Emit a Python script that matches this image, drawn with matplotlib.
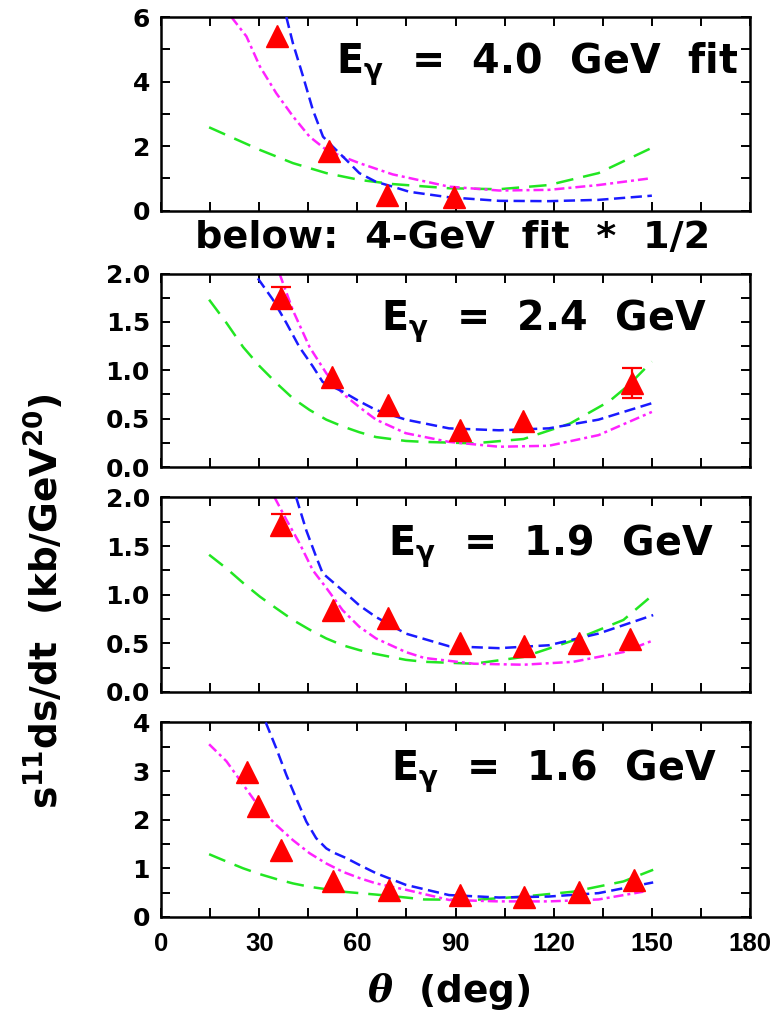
import numpy as np
import matplotlib.pyplot as plt
from matplotlib.ticker import MultipleLocator, FormatStrFormatter

plt.rcParams['font.family'] = ['DejaVu Sans']
plt.rcParams['font.weight'] = 'bold'
plt.rcParams['mathtext.fontset'] = 'custom'
plt.rcParams['mathtext.rm'] = 'DejaVu Sans:bold'
plt.rcParams['mathtext.it'] = 'DejaVu Serif:italic'
plt.rcParams['mathtext.bf'] = 'DejaVu Sans:bold'
plt.rcParams['mathtext.default'] = 'rm'

# ---- E = 4.0 GeV (fit panel) ----
data40_th = [35.5, 51.3, 69.1, 89.6]
data40 = [5.4, 1.83, 0.48, 0.43]
err40 = [0, 0, 0, 0]
green40_th = [14.7, 30.2, 40.3, 50.5, 60.6, 70.8, 88, 103.3, 118.5, 133.7, 149.7]
green40 = [2.58, 1.88, 1.47, 1.16, 0.95, 0.82, 0.69, 0.66, 0.79, 1.16, 1.93]
magenta40_th = [21.5, 26.1, 30.2, 35.2, 40.4, 45.4, 50.5, 55.5, 60.6, 70.8, 88, 103.3, 118.5, 133.7, 149.7]
magenta40 = [6.0, 5.40, 4.47, 3.64, 2.91, 2.29, 1.88, 1.67, 1.47, 1.12, 0.74, 0.62, 0.64, 0.79, 1.0]
blue40_th = [38.3, 40.3, 43.4, 46.4, 49.5, 52.5, 56.6, 60.6, 65.7, 70.8, 75.9, 88, 103.3, 118.5, 133.7, 150]
blue40 = [6.0, 5.19, 4.16, 3.12, 2.29, 1.98, 1.57, 1.16, 0.89, 0.74, 0.58, 0.41, 0.30, 0.29, 0.33, 0.46]

# ---- E = 2.4 GeV ----
data24_th = [36.8, 52.3, 69.5, 91.4, 110.6, 144.0]
data24 = [1.75, 0.93, 0.64, 0.38, 0.48, 0.87]
err24 = [0.11, 0, 0, 0, 0, 0.155]
green24_th = [14.7, 20, 25.1, 30.2, 35.2, 40.3, 45.4, 50.5, 55.5, 60.6, 65.7, 74.8, 80.4, 95.6, 110.8, 125, 137, 143, 150]
green24 = [1.73, 1.49, 1.24, 1.04, 0.87, 0.71, 0.59, 0.49, 0.42, 0.36, 0.31, 0.27, 0.26, 0.245, 0.29, 0.45, 0.68, 0.85, 1.09]
magenta24_th = [36.2, 40.3, 45.4, 50.5, 55.5, 60.6, 65.7, 74.8, 88, 103.3, 118.5, 133.7, 150]
magenta24 = [2.0, 1.62, 1.24, 0.97, 0.76, 0.62, 0.49, 0.35, 0.26, 0.21, 0.22, 0.33, 0.57]
blue24_th = [29.6, 34.2, 38.3, 42.3, 46.4, 49.4, 55.5, 60.6, 65.7, 74.8, 88, 103.3, 118.5, 133.7, 150]
blue24 = [1.95, 1.73, 1.49, 1.24, 1.04, 0.88, 0.78, 0.68, 0.59, 0.49, 0.40, 0.38, 0.40, 0.49, 0.66]

# ---- E = 1.9 GeV ----
data19_th = [36.8, 52.5, 69.5, 91.4, 110.9, 127.6, 143.2]
data19 = [1.72, 0.84, 0.76, 0.50, 0.47, 0.50, 0.54]
err19 = [0.105, 0, 0, 0, 0, 0, 0]
green19_th = [14.7, 20, 25.1, 30.2, 35.2, 40.3, 45.4, 50.5, 55.5, 60.6, 65.7, 74.8, 80.4, 95.6, 110.8, 126, 141.3, 150.4]
green19 = [1.41, 1.27, 1.12, 0.98, 0.86, 0.74, 0.64, 0.55, 0.48, 0.43, 0.39, 0.33, 0.31, 0.29, 0.36, 0.53, 0.74, 1.0]
magenta19_th = [34.7, 38.3, 42.3, 46.4, 50.5, 55.5, 60.6, 65.7, 74.8, 80.4, 95.6, 110.8, 126, 141.3, 150.4]
magenta19 = [2.0, 1.77, 1.53, 1.25, 1.07, 0.84, 0.67, 0.55, 0.41, 0.35, 0.29, 0.28, 0.31, 0.41, 0.53]
blue19_th = [41.3, 44.4, 47.4, 49.4, 52.5, 56.6, 60.6, 65.7, 74.8, 88, 103.3, 118.5, 133.7, 150.4]
blue19 = [2.0, 1.66, 1.39, 1.22, 1.13, 1.01, 0.89, 0.77, 0.60, 0.47, 0.45, 0.48, 0.60, 0.79]

# ---- E = 1.6 GeV ----
data16_th = [26.3, 29.7, 36.8, 52.5, 69.8, 91.4, 110.9, 127.6, 144.4]
data16 = [2.99, 2.29, 1.38, 0.73, 0.56, 0.45, 0.42, 0.52, 0.76]
err16 = [0, 0, 0, 0, 0, 0, 0, 0, 0]
green16_th = [14.7, 20, 25.1, 30.2, 35.2, 40.3, 45.4, 50.5, 55.5, 60.6, 65.7, 74.8, 80.4, 95.6, 110.8, 126, 141.3, 150.4]
green16 = [1.29, 1.14, 1.0, 0.88, 0.78, 0.69, 0.62, 0.57, 0.52, 0.49, 0.46, 0.40, 0.36, 0.35, 0.42, 0.52, 0.73, 0.97]
magenta16_th = [14.7, 20, 25.1, 30.2, 35.2, 40.3, 45.4, 50.5, 55.5, 60.6, 65.7, 74.8, 88, 103.3, 118.5, 133.7, 147.4]
magenta16 = [3.55, 3.20, 2.72, 2.24, 1.89, 1.58, 1.31, 1.10, 0.93, 0.80, 0.69, 0.56, 0.35, 0.32, 0.32, 0.36, 0.52]
blue16_th = [32, 35.2, 38.3, 41.3, 44.4, 47.4, 50.5, 52.5, 56.6, 60.6, 65.7, 74.8, 88, 103.3, 118.5, 133.7, 150.4]
blue16 = [4.0, 3.47, 2.92, 2.44, 1.96, 1.62, 1.41, 1.33, 1.21, 1.07, 0.90, 0.66, 0.45, 0.40, 0.42, 0.49, 0.71]

labels = [r'E$_{\gamma}$  =  4.0  GeV  fit', r'E$_{\gamma}$  =  2.4  GeV',
          r'E$_{\gamma}$  =  1.9  GeV', r'E$_{\gamma}$  =  1.6  GeV']
ymax = [6, 2, 2, 4]
ymajor = [2, 0.5, 0.5, 1]
yminor = [1, 0.25, 0.25, 0.5]
yfmt = ['%d', '%.1f', '%.1f', '%d']

panels = [
    (data40_th, data40, err40, green40_th, green40, magenta40_th, magenta40, blue40_th, blue40),
    (data24_th, data24, err24, green24_th, green24, magenta24_th, magenta24, blue24_th, blue24),
    (data19_th, data19, err19, green19_th, green19, magenta19_th, magenta19, blue19_th, blue19),
    (data16_th, data16, err16, green16_th, green16, magenta16_th, magenta16, blue16_th, blue16),
]

# axes boxes [left, bottom, width, height] in figure fractions
boxes = [
    [0.2083, 0.7924, 0.7620, 0.1908],
    [0.2083, 0.5394, 0.7620, 0.1908],
    [0.2083, 0.3176, 0.7620, 0.1919],
    [0.2083, 0.0957, 0.7620, 0.1919],
]
label_pos = [(0.297, 0.711), (0.374, 0.708), (0.386, 0.704), (0.391, 0.704)]

fig = plt.figure(figsize=(7.73, 10.14), dpi=100)

for i, (th, val, err, g_th, g, m_th, m, b_th, b) in enumerate(panels):
    ax = fig.add_axes(boxes[i])
    ax.plot(g_th, g, color='#22e622', lw=1.8, ls=(0, (7, 4)), zorder=2)
    ax.plot(m_th, m, color='#ff22ff', lw=1.8, ls=(0, (4, 1.6, 1.2, 1.6)), zorder=2)
    ax.plot(b_th, b, color='#1a1aff', lw=1.8, ls=(0, (4.5, 2.2)), zorder=3)

    th = np.array(th)
    val = np.array(val)
    err = np.array(err)
    has_err = err > 0
    if has_err.any():
        ax.errorbar(th[has_err], val[has_err], yerr=err[has_err], fmt='none',
                    ecolor='red', elinewidth=1.6, capsize=7.5, capthick=1.6, zorder=4)
    ax.plot(th, val, '^', color='red', mec='red', ms=16, zorder=5)

    ax.set_xlim(0, 180)
    ax.set_ylim(0, ymax[i])
    ax.xaxis.set_major_locator(MultipleLocator(30))
    ax.xaxis.set_minor_locator(MultipleLocator(15))
    ax.yaxis.set_major_locator(MultipleLocator(ymajor[i]))
    ax.yaxis.set_minor_locator(MultipleLocator(yminor[i]))
    ax.yaxis.set_major_formatter(FormatStrFormatter(yfmt[i]))
    ax.tick_params(which='both', direction='in', top=True, right=True,
                   length=6.5, width=1.4, labelsize=18)
    ax.tick_params(axis='y', pad=8)
    ax.tick_params(axis='x', pad=11)
    if i < 3:
        ax.tick_params(axis='x', labelbottom=False)
    else:
        for lab in ax.get_xticklabels():
            lab.set_fontfamily('Liberation Sans')
            lab.set_fontsize(18.5)
    for sp in ax.spines.values():
        sp.set_linewidth(1.8)

    ax.text(label_pos[i][0], label_pos[i][1], labels[i], transform=ax.transAxes,
            ha='left', va='baseline', fontsize=28.5, fontweight='bold')

fig.text(0.585, 0.7554, 'below:  4-GeV  fit  *  1/2', ha='center', va='baseline',
         fontsize=27.5, fontweight='bold')
fig.text(0.058, 0.407, r's$^{11}$ds/dt  (kb/GeV$^{20}$)', rotation=90,
         ha='center', va='center', fontsize=27, fontweight='bold')
fig.text(0.58, 0.012, r'$\mathit{\theta}$  (deg)', ha='center', va='baseline',
         fontsize=27, fontweight='bold')

fig.savefig('out.png', dpi=100)
